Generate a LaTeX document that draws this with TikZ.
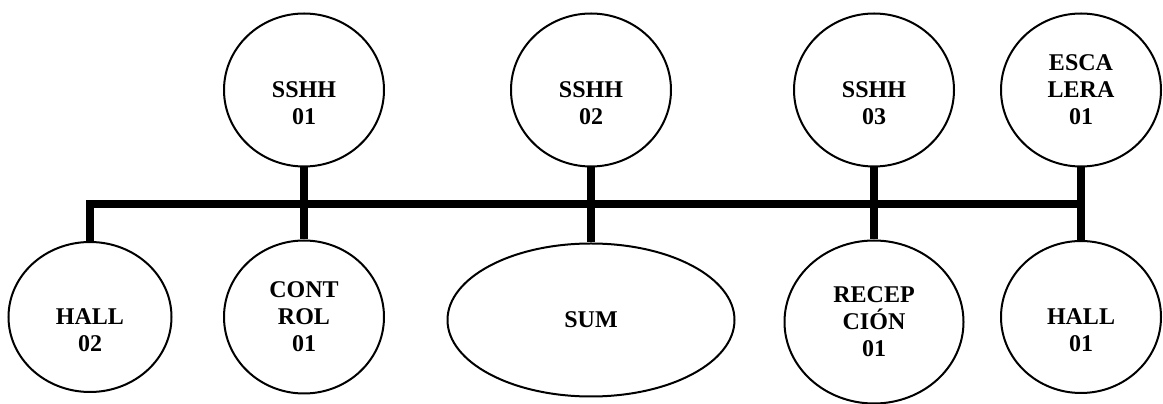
\documentclass[tikz,border=0pt]{standalone}
\usepackage{fontspec}
\setmainfont{Liberation Serif}
\usepackage{tikz}
\usetikzlibrary{shapes.geometric}

\begin{document}
\begin{tikzpicture}[x=1pt, y=1pt,
    room/.style={draw, ellipse, line width=2pt, inner sep=0pt,
        minimum width=160pt, minimum height=153pt,
        text width=100pt, align=center,
        font=\bfseries\fontsize{24}{27}\selectfont},
    twoline/.style={text height=43pt, text depth=27pt},
    bus/.style={line width=8pt}]
    \useasboundingbox (0,0) rectangle (1163,404);
    % upper row
    \node[room, twoline] (sshh1) at (304,314) {SSHH\\01};
    \node[room, twoline] (sshh2) at (591,314) {SSHH\\02};
    \node[room, twoline] (sshh3) at (874,314) {SSHH\\03};
    \node[room] (esc1) at (1081,314) {ESCA\\LERA\\01};
    % lower row
    \node[room, twoline, minimum width=163pt, minimum height=150pt] (hall2) at (90,87) {HALL\\02};
    \node[room] (ctrl1) at (304,87) {CONT\\ROL\\01};
    \node[room, minimum width=287pt] (sum) at (591,84) {SUM};
    \node[room, minimum width=179pt, minimum height=163pt] (rec1) at (874,82) {RECEP\\CIÓN\\01};
    \node[room, twoline, minimum height=152pt] (hall1) at (1081,87) {HALL\\01};
    % connectors
    \coordinate (busend) at (1081,200);
    \draw[bus] (hall2.north) |- (busend);
    \draw[bus] (sshh1.south) -- (ctrl1.north);
    \draw[bus] (sshh2.south) -- (sum.north);
    \draw[bus] (sshh3.south) -- (rec1.north);
    \draw[bus] (esc1.south) -- (hall1.north);
\end{tikzpicture}
\end{document}
